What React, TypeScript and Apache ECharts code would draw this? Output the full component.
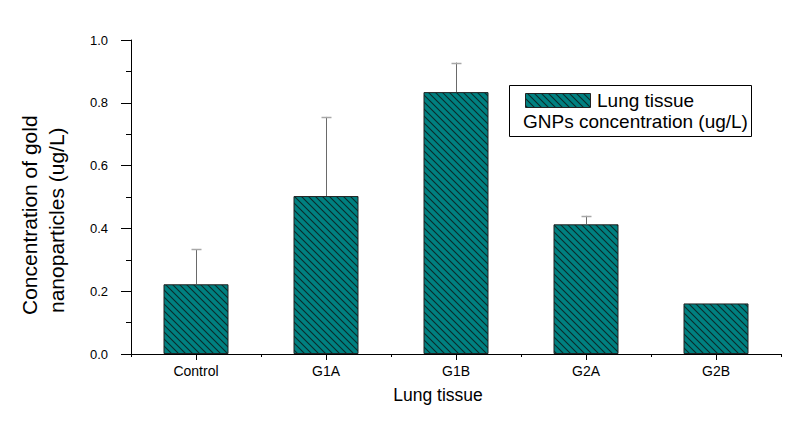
import React, { useEffect, useRef } from "react";
import * as echarts from "echarts";

const categories = ["Control", "G1A", "G1B", "G2A", "G2B"];
const meanValues = [0.222, 0.503, 0.834, 0.413, 0.161];
const upperErrorValues = [0.334, 0.755, 0.928, 0.44, 0.161];
const yTicks = [0, 0.2, 0.4, 0.6, 0.8, 1.0];
const seriesName = "Lung tissue";
const legendLine2 = "GNPs concentration (ug/L)";
const xTitle = "Lung tissue";
const yTitleLines = ["Concentration of gold", "nanoparticles (ug/L)"];

const FONT = "'Liberation Sans', Arial, sans-serif";

function makeHatch() {
  const s = 7;
  const c = document.createElement("canvas");
  c.width = s;
  c.height = s;
  const ctx = c.getContext("2d")!;
  ctx.fillStyle = "#008080";
  ctx.fillRect(0, 0, s, s);
  ctx.strokeStyle = "#0a2a2a";
  ctx.lineWidth = 1.1;
  for (let k = -1; k <= 1; k++) {
    ctx.beginPath();
    ctx.moveTo(-1, -1 + k * s);
    ctx.lineTo(s + 1, s + 1 + k * s);
    ctx.stroke();
  }
  return { image: c, repeat: "repeat", imageWidth: s, imageHeight: s } as any;
}

export default function App() {
  const ref = useRef<HTMLDivElement>(null);
  useEffect(() => {
    document.body.style.margin = "0";
    const chart = echarts.init(ref.current!, null, { renderer: "svg" });
    const hatch = makeHatch();
    const errData = categories.map((_, i) => [i, meanValues[i], upperErrorValues[i]]);
    chart.setOption({
      animation: false,
      backgroundColor: "#ffffff",
      textStyle: { fontFamily: FONT },
      grid: { left: 131, right: 29, top: 40, bottom: 70, containLabel: false },
      xAxis: [
        {
          type: "category",
          data: categories,
          position: "bottom",
          boundaryGap: true,
          axisLine: { show: true, lineStyle: { color: "#000", width: 1 } },
          axisTick: { show: true, alignWithLabel: true, length: 6, lineStyle: { color: "#000" } },
          axisLabel: { color: "#000", fontSize: 14, fontFamily: FONT, margin: 10 },
          splitLine: { show: false },
        },
        {
          type: "value",
          min: 0,
          max: 5,
          interval: 1,
          position: "bottom",
          axisLine: { show: false },
          axisTick: { show: true, length: 3, lineStyle: { color: "#000" } },
          axisLabel: { show: false },
          splitLine: { show: false },
        },
      ],
      yAxis: {
        type: "value",
        min: 0,
        max: 1,
        interval: 0.2,
        axisLine: { show: true, lineStyle: { color: "#000", width: 1 } },
        axisTick: { show: true, length: 10, lineStyle: { color: "#000" } },
        minorTick: { show: true, splitNumber: 2, length: 5, lineStyle: { color: "#000" } },
        axisLabel: {
          color: "#000",
          fontSize: 13,
          fontFamily: FONT,
          margin: 23,
          formatter: (v: number) => (yTicks.some((t) => Math.abs(t - v) < 1e-9) ? v.toFixed(1) : ""),
        },
        splitLine: { show: false },
      },
      series: [
        {
          name: seriesName,
          type: "bar",
          xAxisIndex: 0,
          data: meanValues,
          barWidth: "50%",
          itemStyle: { color: hatch, borderColor: "#222", borderWidth: 1 },
          z: 2,
        },
        {
          type: "custom",
          xAxisIndex: 0,
          data: errData,
          encode: { x: 0, y: [1, 2] },
          z: 3,
          renderItem: (params: any, api: any) => {
            const idx = api.value(0);
            const lo = api.coord([idx, api.value(1)]);
            const hi = api.coord([idx, api.value(2)]);
            if (Math.abs(lo[1] - hi[1]) < 1) return { type: "group", children: [] };
            const x = Math.round(lo[0]) + 0.5;
            return {
              type: "group",
              children: [
                {
                  type: "line",
                  shape: { x1: x, y1: lo[1], x2: x, y2: hi[1] },
                  style: { stroke: "#6a6a6a", lineWidth: 1 },
                },
                {
                  type: "line",
                  shape: { x1: x - 5, y1: Math.round(hi[1]) + 0.5, x2: x + 5, y2: Math.round(hi[1]) + 0.5 },
                  style: { stroke: "#a8a8a8", lineWidth: 1.5 },
                },
              ],
            };
          },
        },
      ],
      graphic: [
        {
          type: "rect",
          shape: { x: 509.5, y: 85.5, width: 242, height: 51 },
          style: { fill: "#fff", stroke: "#000", lineWidth: 1 },
          z: 10,
        },
        {
          type: "rect",
          shape: { x: 525.5, y: 93.5, width: 65, height: 14 },
          style: { fill: hatch, stroke: "#222", lineWidth: 1 },
          z: 11,
        },
        {
          type: "text",
          x: 597,
          y: 100,
          style: { text: seriesName, fontSize: 19, fontFamily: FONT, fill: "#000", verticalAlign: "middle", align: "left" },
          z: 11,
        },
        {
          type: "text",
          x: 523,
          y: 121,
          style: { text: legendLine2, fontSize: 19, fontFamily: FONT, fill: "#000", verticalAlign: "middle", align: "left" },
          z: 11,
        },
        {
          type: "text",
          x: 438,
          y: 395,
          style: { text: xTitle, fontSize: 17.5, fontFamily: FONT, fill: "#000", align: "center", verticalAlign: "middle" },
        },
        {
          type: "text",
          x: 29,
          y: 315,
          rotation: Math.PI / 2,
          style: { text: yTitleLines[0], fontSize: 21, fontFamily: FONT, fill: "#000", align: "left", verticalAlign: "middle" },
        },
        {
          type: "text",
          x: 56,
          y: 313,
          rotation: Math.PI / 2,
          style: { text: yTitleLines[1], fontSize: 21, fontFamily: FONT, fill: "#000", align: "left", verticalAlign: "middle" },
        },
      ],
    });
    return () => chart.dispose();
  }, []);
  return <div ref={ref} style={{ width: 810, height: 424 }} />;
}
